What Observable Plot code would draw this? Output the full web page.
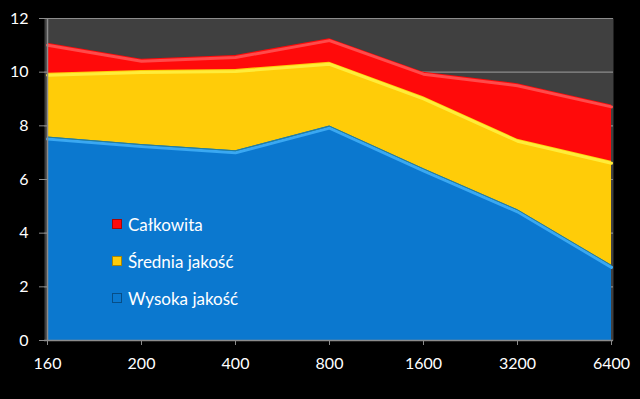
<!DOCTYPE html>
<html><head><meta charset="utf-8">
<script src="https://cdn.jsdelivr.net/npm/d3@7"></script>
<script src="https://cdn.jsdelivr.net/npm/@observablehq/plot@0.6"></script>
<style>
body{margin:0;background:#000;}
#c{position:relative;width:640px;height:399px;overflow:hidden;}
.leg{position:absolute;left:112px;font-family:Lato,"Open Sans",sans-serif;font-size:17px;color:#fff;display:flex;align-items:center;line-height:1;}
.leg i{display:inline-block;width:8px;height:8px;margin-right:6px;border:1px solid rgba(0,0,0,0.35);}
</style>
</head><body><div id="c"></div>
<script>
const categories = ["160","200","400","800","1600","3200","6400"];
const calkowita = [11.08, 10.48, 10.62, 11.25, 10.0, 9.57, 8.78];
const srednia   = [9.96, 10.06, 10.1, 10.37, 9.08, 7.5, 6.68];
const wysoka    = [7.58, 7.3, 7.07, 7.99, 6.4, 4.87, 2.8];
const seriesNames = ["Całkowita", "Średnia jakość", "Wysoka jakość"];
const seriesColors = ["#ff0a0a", "#ffcc08", "#0b78cf"];
const highlightColors = ["#ff4a4a", "#ffec3a", "#3aa8f2"];
const yTicks = [0, 2, 4, 6, 8, 10, 12];

const seriesValues = [calkowita, srednia, wysoka];
const data = seriesValues.map((vals, s) => categories.map((c, i) => ({cat: c, v: vals[i], s: seriesNames[s]})));

const marks = [
  Plot.frame({fill: "#404040", stroke: null}),
  Plot.ruleY(yTicks, {stroke: "#8c8c8c", strokeWidth: 1.2})
];
data.forEach((d, s) => {
  marks.push(Plot.areaY(d, {x: "cat", y: "v", fill: seriesColors[s]}));
  marks.push(Plot.lineY(d, {x: "cat", y: "v", stroke: highlightColors[s], strokeWidth: 3, dy: 2, clip: "frame"}));
  if (s === 2) marks.push(Plot.lineY(d, {x: "cat", y: "v", stroke: "#2a7f95", strokeWidth: 1, clip: "frame"}));
});
marks.push(
  Plot.ruleX([categories[0]], {stroke: "#8c8c8c", strokeWidth: 1.5}),
  Plot.ruleY([0], {stroke: "#8c8c8c", strokeWidth: 1.5}),
  Plot.axisY({ticks: yTicks, tickSize: 5, tickPadding: 11, stroke: "#8c8c8c", fill: "#fff", label: null, fontSize: 16}),
  Plot.axisX({tickSize: 5, tickPadding: 12, stroke: "#8c8c8c", fill: "#fff", label: null, fontSize: 16})
);

const chart = Plot.plot({
  width: 640, height: 399,
  marginLeft: 44, marginRight: 27, marginTop: 18, marginBottom: 59,
  style: {background: "#000", color: "#fff", fontFamily: "Lato, 'Open Sans', sans-serif", fontSize: "16px"},
  x: {type: "point", domain: categories, padding: 0},
  y: {domain: [0, 12]},
  marks
});
const c = document.getElementById("c");
c.appendChild(chart);

const legTops = [224, 261, 298];
seriesNames.forEach((n, i) => {
  const el = document.createElement("div");
  el.className = "leg";
  el.style.top = (legTops[i] - 9) + "px";
  el.style.height = "18px";
  el.innerHTML = `<i style="background:${seriesColors[i]}"></i>${n}`;
  c.appendChild(el);
});
</script>
</body></html>
